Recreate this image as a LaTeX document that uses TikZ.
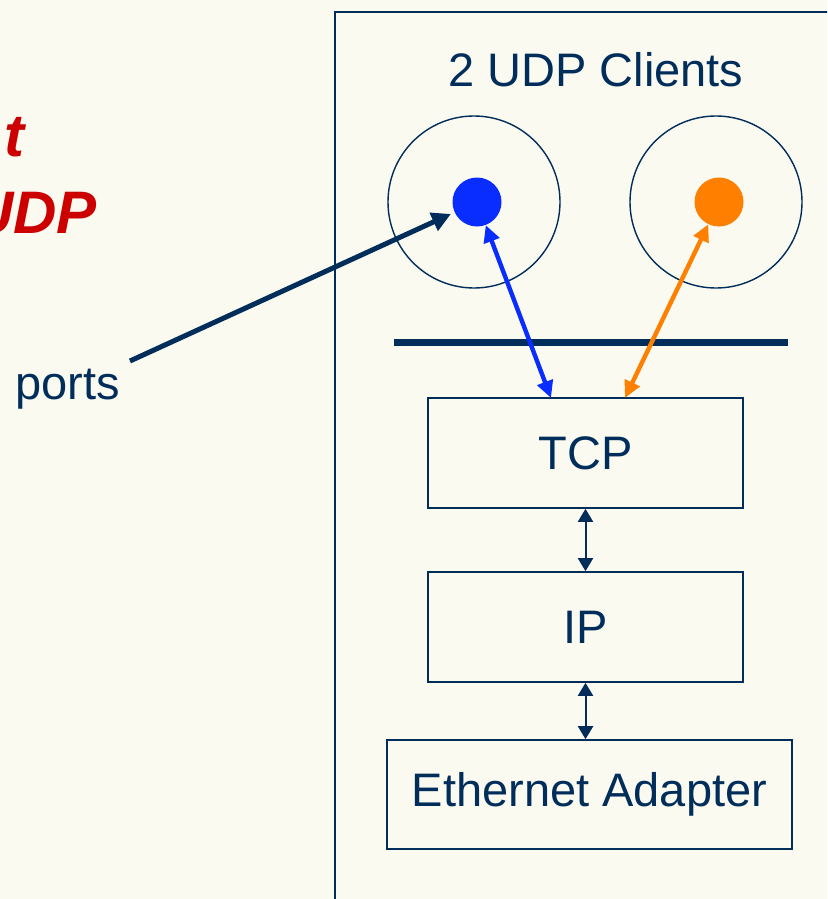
\documentclass[tikz,border=0pt]{standalone}
\usepackage{fontspec}
\setmainfont{Liberation Sans}
\usetikzlibrary{arrows.meta,calc}
\definecolor{paper}{RGB}{251,250,241}
\definecolor{navy}{RGB}{0,45,90}
\definecolor{portblue}{RGB}{10,45,255}
\definecolor{portorange}{RGB}{255,127,0}
\definecolor{titlered}{RGB}{204,0,0}
\tikzset{
  label47/.style={font=\fontsize{47}{56}\selectfont, text=navy, inner sep=0pt},
  layerbox/.style={draw=navy, line width=1.6pt, rectangle, inner sep=0pt,
    font=\fontsize{47}{56}\selectfont, text=navy},
  ring/.style={draw=navy, line width=1.4pt, circle, inner sep=0pt, minimum size=172pt},
  dot/.style={circle, inner sep=0pt, minimum size=49pt},
  link/.style={draw=navy, line width=2pt, {Triangle[length=13pt,width=15pt]}-{Triangle[length=13pt,width=15pt]}},
  portlink/.style={line width=4.4pt, {Triangle[length=17pt,width=16pt]}-{Triangle[length=17pt,width=16pt]}},
  pointer/.style={draw=navy, line width=5pt, -{Triangle[length=19pt,width=19pt]}},
}
\begin{document}
\begin{tikzpicture}[x=1pt,y=-1pt]
  \useasboundingbox (0,0) rectangle (827,899);
  \clip (0,0) rectangle (827,899);
  \fill[paper] (0,0) rectangle (827,899);

  % host panel
  \draw[navy, line width=1.6pt] (900,12) -- (335,12) -- (335,950);

  % heading lines on the left
  \node[anchor=base east, inner sep=0pt, text=titlered,
        font=\fontsize{60}{72}\selectfont\bfseries\itshape] (headA) at (25,156) {t};
  \node[anchor=base east, inner sep=0pt, text=titlered,
        font=\fontsize{60}{72}\selectfont\bfseries\itshape] (headB) at (97,233) {UDP};

  \node[label47, anchor=base] (clients) at (596,86) {2 UDP Clients};

  % clients and their ports
  \node[ring] (c1) at (474,202) {};
  \node[ring] (c2) at (716,202) {};
  \node[dot, fill=portblue] (p1) at (477,202) {};
  \node[dot, fill=portorange] (p2) at (719,202) {};

  % socket interface line
  \coordinate (apiL) at (394,342);
  \coordinate (apiR) at (788,342);
  \draw[navy, line width=7pt] (apiL) -- (apiR);

  % protocol stack
  \node[layerbox, minimum width=315pt, minimum height=110pt] (tcp) at (585.5,453) {TCP};
  \node[layerbox, minimum width=315pt, minimum height=110pt] (ip) at (585.5,627) {IP};
  \node[layerbox, minimum width=405pt, minimum height=109pt] (eth) at (589.5,794.5) {Ethernet Adapter};

  \draw[link] (tcp.south) -- (ip.north);
  \draw[link] (ip.south) -- (ip.south |- eth.north);

  % port connections into TCP
  \coordinate (tcpA) at (551,398);
  \coordinate (tcpB) at (625,398);
  \draw[portlink, draw=portblue, fill=portblue] (p1) -- (tcpA);
  \draw[portlink, draw=portorange, fill=portorange] (p2) -- (tcpB);

  % ports callout
  \node[label47, anchor=base west] (ports) at (15,399) {ports};
  \coordinate (portsTail) at (130,361);
  \draw[pointer, shorten >=4pt] (portsTail) -- (p1);
\end{tikzpicture}
\end{document}
